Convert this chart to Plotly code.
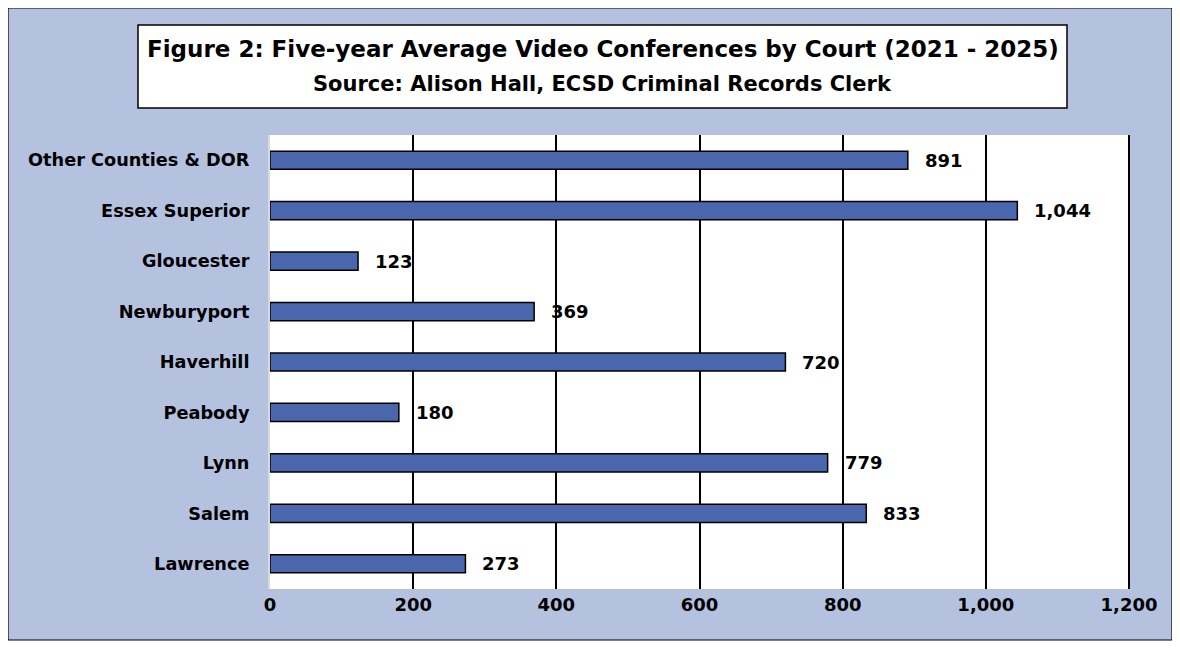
import plotly.graph_objects as go

courts = ["Lawrence", "Salem", "Lynn", "Peabody", "Haverhill", "Newburyport",
          "Gloucester", "Essex Superior", "Other Counties & DOR"]
values = [273, 833, 779, 180, 720, 369, 123, 1044, 891]
x_ticks = [0, 200, 400, 600, 800, 1000, 1200]
x_tick_labels = ["0", "200", "400", "600", "800", "1,000", "1,200"]
title_line1 = "Figure 2: Five-year Average Video Conferences by Court (2021 - 2025)"
title_line2 = "Source: Alison Hall, ECSD Criminal Records Clerk"

FONT = "DejaVu Sans"
BG = "#B4C2E0"
BAR = "#4A66AD"

# page body has an 8px margin: figure pixel = window pixel - 8
OFF = 8
W, H = 1180 - OFF, 649 - OFF
L = 270 - OFF
T = 135 - OFF
R = W - (1129 - OFF)
B = H - (589 - OFF)
pw, ph = W - L - R, H - T - B

def px(x):
    return (x - OFF - L) / pw

def py(y):
    return (H - B - (y - OFF)) / ph

fig = go.Figure()
fig.add_trace(go.Bar(
    y=courts, x=values, orientation="h",
    marker=dict(color=BAR, line=dict(color="black", width=1.5)),
    hoverinfo="skip",
))

for c, v in zip(courts, values):
    fig.add_annotation(x=v, y=c, xref="x", yref="y", text=f"<b>{v:,}</b>",
                       showarrow=False, xanchor="left", yanchor="middle", xshift=15,
                       font=dict(family=FONT, size=18, color="black"))

fig.add_shape(type="rect", xref="paper", yref="paper",
              x0=px(8), x1=px(1172), y0=py(640), y1=py(8),
              fillcolor=BG, line=dict(color="black", width=1.2), layer="below")
fig.add_shape(type="rect", xref="paper", yref="paper",
              x0=0, x1=1, y0=0, y1=1,
              fillcolor="white", line=dict(width=0), layer="below")
# right frame edge of the plot area (coincides with the 1,200 gridline)
fig.add_shape(type="line", xref="paper", yref="paper",
              x0=1, x1=1, y0=0, y1=1,
              line=dict(color="black", width=2), layer="above")
fig.add_shape(type="rect", xref="paper", yref="paper",
              x0=px(138), x1=px(1067), y0=py(108), y1=py(25),
              fillcolor="white", line=dict(color="black", width=1.5), layer="above")
fig.add_annotation(xref="paper", yref="paper", x=px(602.5), y=py(49),
                   xanchor="center", yanchor="middle",
                   text=f"<b>{title_line1}</b>", showarrow=False,
                   font=dict(family=FONT, size=23, color="black"))
fig.add_annotation(xref="paper", yref="paper", x=px(602.5), y=py(84),
                   xanchor="center", yanchor="middle",
                   text=f"<b>{title_line2}</b>", showarrow=False,
                   font=dict(family=FONT, size=21, color="black"))

fig.update_layout(
    width=W, height=H,
    margin=dict(l=L, r=R, t=T, b=B, pad=0),
    paper_bgcolor="white", plot_bgcolor="white",
    showlegend=False, bargap=0.64,
    font=dict(family=FONT, size=18, color="black"),
    xaxis=dict(range=[0, 1200], tickvals=x_ticks, ticktext=[f"<b>{t}</b>" for t in x_tick_labels],
               showgrid=True, gridcolor="black", gridwidth=2, zeroline=False,
               showline=False, ticks="", ticklabelstandoff=3,
               tickfont=dict(family=FONT, size=18, color="black"), fixedrange=True),
    yaxis=dict(ticktext=[f"<b>{c}</b>" for c in courts], tickvals=courts,
               showgrid=False, zeroline=False, showline=True, linecolor="#D9D9D9", linewidth=2,
               ticks="", ticklabelstandoff=15,
               tickfont=dict(family=FONT, size=17.7, color="black"), fixedrange=True),
)

fig.write_html("out.html")
